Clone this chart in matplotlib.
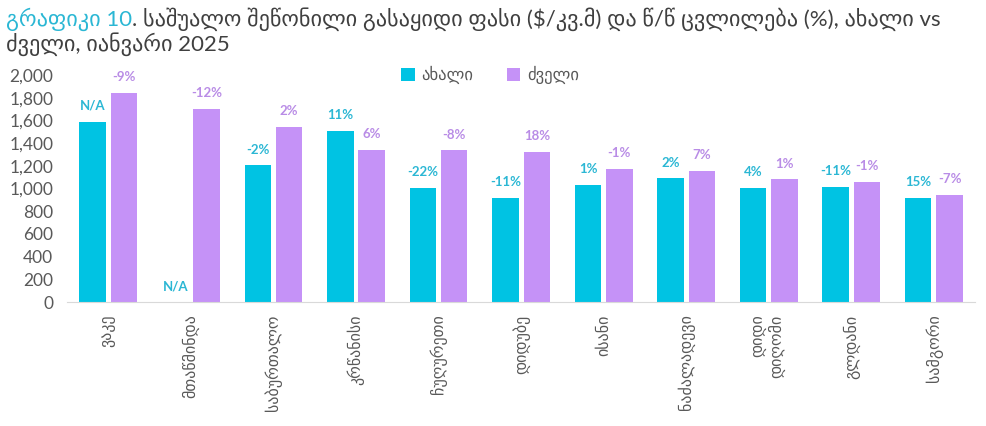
import numpy as np
import matplotlib
matplotlib.use("Agg")
from matplotlib import pyplot as plt
from matplotlib.ticker import FuncFormatter

plt.rcParams['font.family'] = ['Lato', 'DejaVu Sans']

districts = ['ვაკე', 'მთაწმინდა', 'საბურთალო', 'კრწანისი', 'ჩუღურეთი', 'დიდუბე',
             'ისანი', 'ნაძალადევი', 'დიდი\nდიღომი', 'გლდანი', 'სამგორი']
new_price = [1590, 0, 1205, 1510, 1005, 915, 1030, 1090, 1005, 1015, 920]
old_price = [1840, 1700, 1545, 1340, 1335, 1320, 1175, 1155, 1080, 1060, 945]
new_chg = ['N/A', 'N/A', '-2%', '11%', '-22%', '-11%', '1%', '2%', '4%', '-11%', '15%']
old_chg = ['-9%', '-12%', '2%', '6%', '-8%', '18%', '-1%', '7%', '1%', '-1%', '-7%']

c_new = '#00c3e3'
c_old = '#c592f7'
c_new_txt = '#2bb7d4'
c_old_txt = '#b98ce6'
grey = '#595959'

fig = plt.figure(figsize=(9.86, 4.26), dpi=100)
ax = fig.add_axes([0.068, 0.291, 0.921, 0.533])

x = np.arange(len(districts))
w = 0.32
off = 0.19
b1 = ax.bar(x - off, new_price, w, color=c_new, label='ახალი')
b2 = ax.bar(x + off, old_price, w, color=c_old, label='ძველი')

for xi, v, t in zip(x, new_price, new_chg):
    ax.annotate(t, (xi - off, v), xytext=(0, 7), textcoords='offset points',
                ha='center', va='bottom', fontsize=9.5, fontweight='bold',
                color=c_new_txt, annotation_clip=False)
for xi, v, t in zip(x, old_price, old_chg):
    ax.annotate(t, (xi + off, v), xytext=(0, 7), textcoords='offset points',
                ha='center', va='bottom', fontsize=9.5, fontweight='bold',
                color=c_old_txt, annotation_clip=False)

ax.set_xlim(-0.5, len(districts) - 0.5)
ax.set_ylim(0, 2000)
ax.set_yticks(np.arange(0, 2001, 200))
ax.yaxis.set_major_formatter(FuncFormatter(lambda v, p: f'{int(v):,}'))
ax.set_xticks(x)
ax.set_xticklabels(districts, rotation=90, va='top', ha='center', ma='right')
ax.tick_params(axis='both', length=0, colors=grey, labelsize=12.5)
ax.tick_params(axis='x', labelsize=11.5, pad=9)
ax.tick_params(axis='y', pad=10)
for s in ['top', 'right', 'left']:
    ax.spines[s].set_visible(False)
ax.spines['bottom'].set_color('#d9d9d9')

fig.legend(handles=[b1, b2], loc='center', bbox_to_anchor=(0.497, 0.824),
           ncol=2, frameon=False, fontsize=12, handlelength=0.8, handleheight=0.8,
           handletextpad=0.4, columnspacing=2.0, labelcolor=grey)

t1 = fig.text(0.006, 0.94, 'გრაფიკი 10', fontsize=16, color='#2bb7d4', va='baseline')
fig.canvas.draw()
ax.annotate('. საშუალო შეწონილი გასაყიდი ფასი ($/კვ.მ) და წ/წ ცვლილება (%), ახალი vs',
            xy=(1, 0), xycoords=t1, va='bottom', ha='left', fontsize=16, color='#404040',
            annotation_clip=False)
fig.text(0.006, 0.88, 'ძველი, იანვარი 2025', fontsize=16, color='#404040', va='baseline')

fig.savefig('out.png', dpi=100)
